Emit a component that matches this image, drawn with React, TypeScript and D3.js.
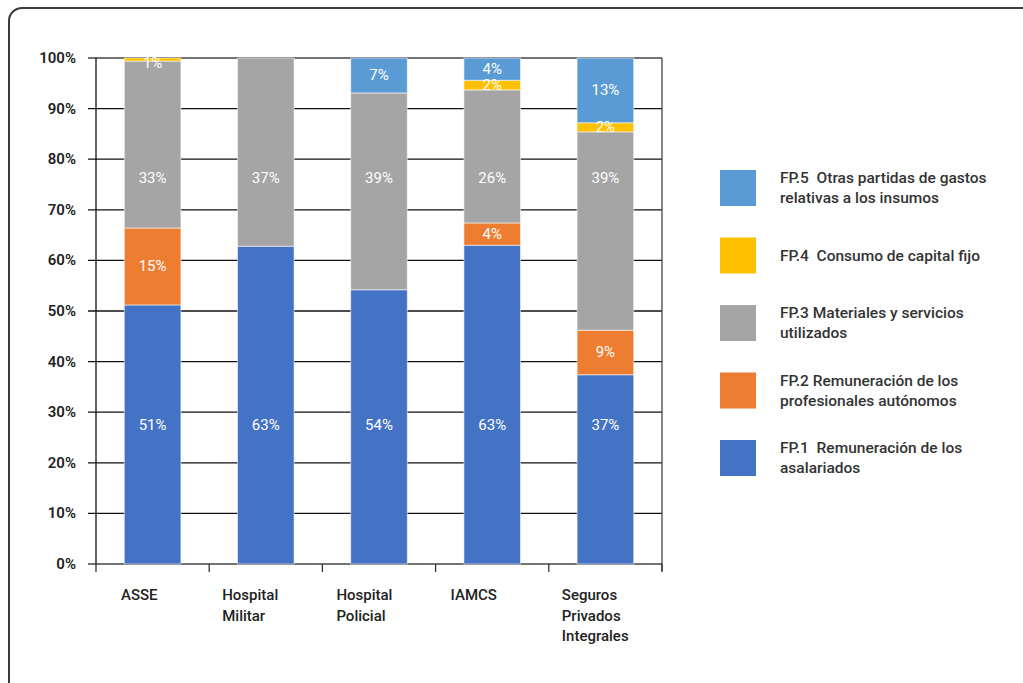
import { useEffect, useRef } from "react";
import * as d3 from "d3";

// categories (x axis) and stacked series, in percent
const categories = ["ASSE", "Hospital Militar", "Hospital Policial", "IAMCS", "Seguros Privados Integrales"];
const categoryLines = [["ASSE"], ["Hospital", "Militar"], ["Hospital", "Policial"], ["IAMCS"], ["Seguros", "Privados", "Integrales"]];
const fp1 = [51.2, 62.8, 54.2, 63.0, 37.4];
const fp2 = [15.2, 0, 0, 4.4, 8.8];
const fp3 = [33.0, 37.2, 38.9, 26.3, 39.2];
const fp4 = [0.6, 0, 0, 1.9, 1.8];
const fp5 = [0, 0, 6.9, 4.4, 12.8];
const yTicks = [0, 10, 20, 30, 40, 50, 60, 70, 80, 90, 100];

const seriesNames = ["fp1", "fp2", "fp3", "fp4", "fp5"];
const seriesColors = ["#4472C4", "#ED7D31", "#A5A5A5", "#FFC000", "#5B9BD5"];
// fixed label heights (percent) for series whose labels sit on one row in the original
const labelRow: (number | null)[] = [27.5, null, 76.3, null, null];
const legendLines = [
  ["FP.1  Remuneración de los", "asalariados"],
  ["FP.2 Remuneración de los", "profesionales autónomos"],
  ["FP.3 Materiales y servicios", "utilizados"],
  ["FP.4  Consumo de capital fijo"],
  ["FP.5  Otras partidas de gastos", "relativas a los insumos"],
];

const FONT = "Roboto, 'Noto Sans', sans-serif";

export default function App() {
  const svgRef = useRef<SVGSVGElement>(null);

  useEffect(() => {
    if (!svgRef.current) return;
    const svg = d3.select(svgRef.current);
    svg.selectAll("*").remove();

    const W = 1023;
    const H = 683;
    const m = { left: 96, top: 58, right: 662, bottom: 564 };

    // outer rounded frame, running off the right and bottom edges
    svg
      .append("rect")
      .attr("x", 9)
      .attr("y", 8)
      .attr("width", W + 20)
      .attr("height", H + 20)
      .attr("rx", 13)
      .attr("fill", "#fff")
      .attr("stroke", "#3a3a3a")
      .attr("stroke-width", 2);

    const x = d3
      .scaleBand<string>()
      .domain(categories)
      .range([m.left, m.right])
      .paddingInner(0.5)
      .paddingOuter(0.25);
    const y = d3.scaleLinear().domain([0, 100]).range([m.bottom, m.top]);

    // gridlines + y ticks
    const grid = svg.append("g");
    grid
      .selectAll("line")
      .data(yTicks)
      .join("line")
      .attr("x1", m.left - 8)
      .attr("x2", m.right)
      .attr("y1", (d) => y(d))
      .attr("y2", (d) => y(d))
      .attr("stroke", (d) => (d === 0 || d === 100 ? "#444" : "#111"))
      .attr("stroke-width", 1.3);
    grid
      .selectAll("text")
      .data(yTicks)
      .join("text")
      .attr("x", 76)
      .attr("y", (d) => y(d) + 5)
      .attr("text-anchor", "end")
      .attr("font-family", FONT)
      .attr("font-size", 15)
      .attr("font-weight", 600)
      .attr("fill", "#222")
      .text((d) => `${d}%`);

    // stacked bars
    const table = categories.map((c, i) => ({
      cat: c,
      fp1: fp1[i],
      fp2: fp2[i],
      fp3: fp3[i],
      fp4: fp4[i],
      fp5: fp5[i],
    }));
    const stacked = d3.stack<any>().keys(seriesNames)(table);

    stacked.forEach((layer, si) => {
      const g = svg.append("g");
      g.selectAll("rect")
        .data(layer.filter((d) => d[1] - d[0] > 0))
        .join("rect")
        .attr("x", (d) => x(d.data.cat)!)
        .attr("width", x.bandwidth())
        .attr("y", (d) => y(d[1]))
        .attr("height", (d) => y(d[0]) - y(d[1]))
        .attr("fill", seriesColors[si])
        .attr("stroke", "rgba(255,255,255,0.55)")
        .attr("stroke-width", 1);
    });

    // value labels
    stacked.forEach((layer, si) => {
      const row = labelRow[si];
      svg
        .append("g")
        .selectAll("text")
        .data(layer.filter((d) => Math.round(d[1] - d[0]) > 0))
        .join("text")
        .attr("x", (d) => x(d.data.cat)! + x.bandwidth() / 2)
        .attr("y", (d) =>
          row !== null ? y(row) + 5 : Math.max(y((d[0] + d[1]) / 2) + 5, m.top + 10)
        )
        .attr("text-anchor", "middle")
        .attr("font-family", FONT)
        .attr("font-size", 15)
        .attr("fill", "#fff")
        .text((d) => `${Math.round(d[1] - d[0])}%`);
    });

    // plot right border, y axis
    svg
      .append("line")
      .attr("x1", m.right)
      .attr("x2", m.right)
      .attr("y1", m.top)
      .attr("y2", m.bottom + 7)
      .attr("stroke", "#444")
      .attr("stroke-width", 1.3);
    svg
      .append("line")
      .attr("x1", m.left)
      .attr("x2", m.left)
      .attr("y1", m.top)
      .attr("y2", m.bottom)
      .attr("stroke", "#111")
      .attr("stroke-width", 1.3);

    // x ticks at category boundaries
    const step = x.step();
    const bounds = d3.range(categories.length + 1).map((i) => m.left + i * step);
    svg
      .append("g")
      .selectAll("line")
      .data(bounds)
      .join("line")
      .attr("x1", (d) => d)
      .attr("x2", (d) => d)
      .attr("y1", m.bottom)
      .attr("y2", m.bottom + 8)
      .attr("stroke", "#333")
      .attr("stroke-width", 1.3);

    // category labels
    const indent = [25, 13, 14, 15, 13];
    categories.forEach((c, i) => {
      const t = svg
        .append("text")
        .attr("font-family", FONT)
        .attr("font-size", 15)
        .attr("font-weight", 500)
        .attr("fill", "#222");
      categoryLines[i].forEach((ln, k) => {
        t.append("tspan")
          .attr("x", m.left + i * step + indent[i])
          .attr("y", 600 + k * 20.5)
          .text(ln);
      });
    });

    // legend, FP.5 at the top
    const order = [4, 3, 2, 1, 0];
    order.forEach((si, k) => {
      const cy = 188 + k * 67.5;
      svg
        .append("rect")
        .attr("x", 720)
        .attr("y", cy - 18)
        .attr("width", 36)
        .attr("height", 36)
        .attr("fill", seriesColors[si]);
      const lines = legendLines[si];
      const t = svg
        .append("text")
        .attr("font-family", FONT)
        .attr("font-size", 15.5)
        .attr("font-weight", 500)
        .attr("fill", "#333");
      lines.forEach((ln, j) => {
        t.append("tspan")
          .attr("x", 780)
          .attr("y", cy + 5 + (j - (lines.length - 1) / 2) * 20)
          .style("white-space", "pre")
          .text(ln);
      });
    });
  }, []);

  return (
    <svg
      ref={svgRef}
      width={1023}
      height={683}
      style={{ position: "absolute", left: 0, top: 0, display: "block" }}
    />
  );
}
